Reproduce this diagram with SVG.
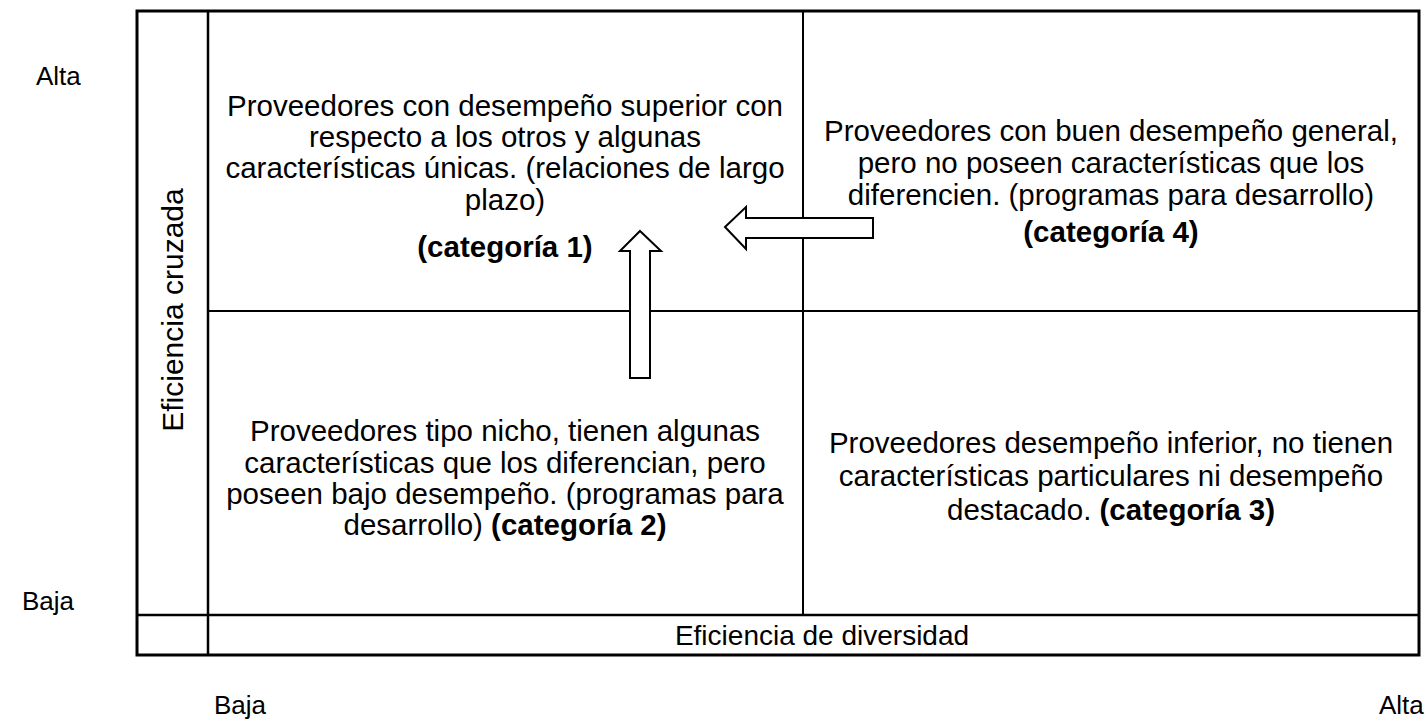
<svg xmlns="http://www.w3.org/2000/svg" width="1426" height="722" viewBox="0 0 1426 722">
<style>
text{font-family:"Liberation Sans",Arial,sans-serif;font-size:28px;fill:#000}
.t{font-size:29.5px}
.s{font-size:26px}
.c{text-anchor:middle}
.b{font-weight:bold}
.ln{stroke:#000;fill:none}
.arr{fill:#fff;stroke:#000;stroke-width:2;stroke-linejoin:miter}
</style>
<rect width="1426" height="722" fill="#fff"/>
<g id="grid">
<rect class="ln" x="137" y="11" width="1282" height="644" stroke-width="3"/>
<line class="ln" x1="208" y1="11" x2="208" y2="655" stroke-width="2.5"/>
<line class="ln" x1="137" y1="615" x2="1419" y2="615" stroke-width="2.5"/>
<line class="ln" x1="803" y1="11" x2="803" y2="615" stroke-width="2"/>
<line class="ln" x1="208" y1="311" x2="1419" y2="311" stroke-width="2"/>
</g>
<g id="cell1">
<text class="c t" x="505" y="116">Proveedores con desempeño superior con</text>
<text class="c t" x="505" y="147">respecto a los otros y algunas</text>
<text class="c t" x="505" y="178">características únicas. (relaciones de largo</text>
<text class="c t" x="505" y="210">plazo)</text>
<text class="c t b" x="505" y="257">(categoría 1)</text>
</g>
<g id="cell4">
<text class="c t" x="1111" y="141">Proveedores con buen desempeño general,</text>
<text class="c t" x="1111" y="173">pero no poseen características que los</text>
<text class="c t" x="1111" y="205">diferencien. (programas para desarrollo)</text>
<text class="c t b" x="1111" y="242">(categoría 4)</text>
</g>
<g id="cell2">
<text class="c t" x="505" y="441">Proveedores tipo nicho, tienen algunas</text>
<text class="c t" x="505" y="473">características que los diferencian, pero</text>
<text class="c t" x="505" y="504">poseen bajo desempeño. (programas para</text>
<text class="c t" x="505" y="535">desarrollo) <tspan class="b">(categoría 2)</tspan></text>
</g>
<g id="cell3">
<text class="c t" x="1111" y="453">Proveedores desempeño inferior, no tienen</text>
<text class="c t" x="1111" y="486">características particulares ni desempeño</text>
<text class="c t" x="1111" y="520">destacado. <tspan class="b">(categoría 3)</tspan></text>
</g>
<g id="axis-y">
<text class="c" style="font-size:30px" transform="translate(183,310) rotate(-90)">Eficiencia cruzada</text>
<text class="s" x="36" y="85">Alta</text>
<text class="s" x="22" y="610">Baja</text>
</g>
<g id="axis-x">
<text class="c" x="822" y="645">Eficiencia de diversidad</text>
<text class="s" x="214" y="714">Baja</text>
<text class="s" x="1379" y="714">Alta</text>
</g>
<g id="connectors">
<polygon class="arr" points="725,227 746,207 746,218 873,218 873,238 746,238 746,249"/>
<polygon class="arr" points="640,231 661,251 650,251 650,378 630,378 630,251 620,251"/>
</g>
</svg>
